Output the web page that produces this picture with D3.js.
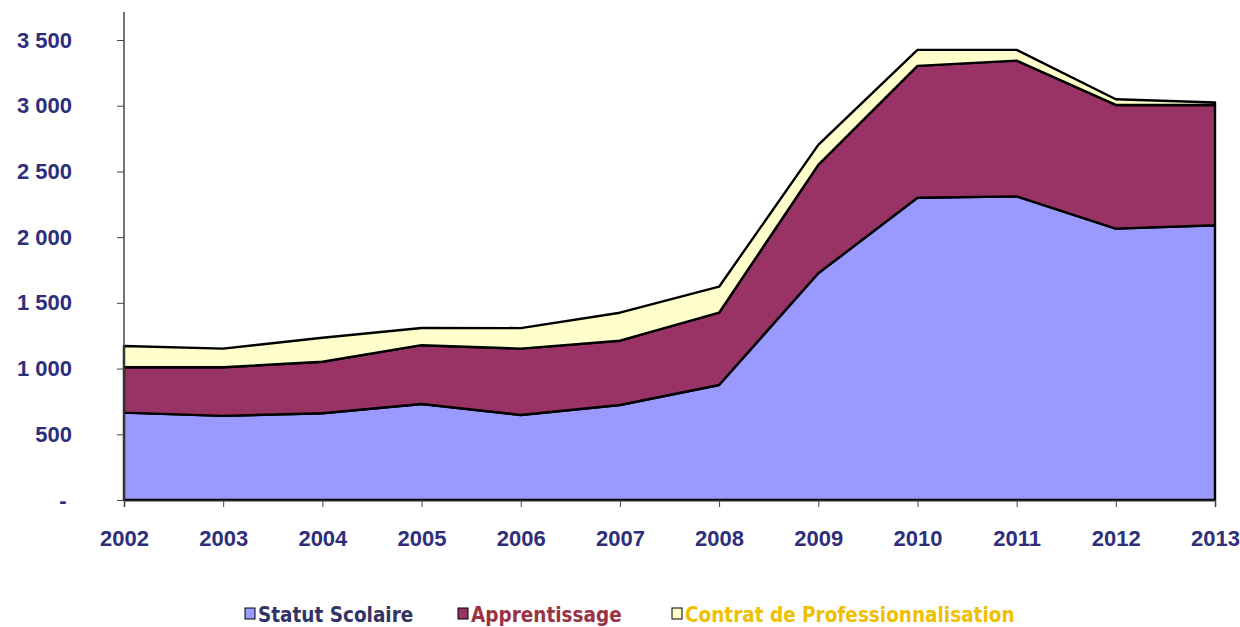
<!DOCTYPE html>
<html>
<head>
<meta charset="utf-8">
<script src="https://cdn.jsdelivr.net/npm/d3@7"></script>
<style>
  body { margin: 0; background: #fff; }
  svg { display: block; }
</style>
</head>
<body>
<div id="chart"></div>
<script>
const years = [2002, 2003, 2004, 2005, 2006, 2007, 2008, 2009, 2010, 2011, 2012, 2013];
const statutScolaire = [665, 640, 660, 730, 647, 723, 875, 1725, 2300, 2310, 2065, 2090];
const apprentissage = [345, 370, 392, 448, 505, 489, 550, 825, 1003, 1033, 941, 916];
const contratPro = [162, 142, 183, 131, 156, 213, 198, 152, 122, 82, 43, 18];
const yTicks = [0, 500, 1000, 1500, 2000, 2500, 3000, 3500];

const seriesNames = ['Statut Scolaire', 'Apprentissage', 'Contrat de Professionnalisation'];
const fills = ['#9999ff', '#993366', '#ffffcc'];
const legendColors = ['#333366', '#993344', '#f0c000'];

const width = 1240, height = 627;
const svg = d3.select('#chart').append('svg')
  .attr('width', width)
  .attr('height', height);

const x = d3.scaleLinear().domain([2002, 2013]).range([124, 1215]);
const y = d3.scaleLinear().domain([0, 3500]).range([500, 40]);

const rows = years.map((yr, i) => ({
  year: yr,
  s: statutScolaire[i],
  a: apprentissage[i],
  c: contratPro[i]
}));
const stacked = d3.stack().keys(['s', 'a', 'c'])(rows);

const area = d3.area()
  .x((d) => x(d.data.year))
  .y0((d) => y(d[0]))
  .y1((d) => y(d[1]));

svg.append('g')
  .selectAll('path')
  .data(stacked)
  .enter().append('path')
  .attr('d', area)
  .attr('fill', (d, i) => fills[i])
  .attr('stroke', '#000')
  .attr('stroke-width', 2.4)
  .attr('stroke-linejoin', 'round');

const fmt = (v) => v === 0 ? '-\u2005' : d3.format(',')(v).replace(',', '\u00a0');

// y axis
const yAxis = svg.append('g')
  .attr('transform', 'translate(124,0)')
  .call(d3.axisLeft(y).tickValues(yTicks).tickSize(7).tickPadding(45).tickFormat(fmt));
yAxis.select('.domain').remove();
yAxis.selectAll('.tick line').attr('stroke', '#444');
yAxis.selectAll('text')
  .attr('fill', '#2e2e7a')
  .style('font', 'bold 22px "Liberation Sans", Arial, sans-serif');
svg.append('line')
  .attr('x1', 124).attr('x2', 124)
  .attr('y1', 12).attr('y2', 500)
  .attr('stroke', '#444').attr('stroke-width', 1.5);

// x axis
const xAxis = svg.append('g')
  .attr('transform', 'translate(0,500)')
  .call(d3.axisBottom(x).tickValues(years).tickSize(7).tickPadding(23).tickFormat(d3.format('d')));
xAxis.select('.domain').attr('stroke', '#222').attr('stroke-width', 1.5);
xAxis.selectAll('.tick line').attr('stroke', '#444');
xAxis.selectAll('text')
  .attr('fill', '#2e2e7a')
  .style('font', 'bold 22px "Liberation Sans", Arial, sans-serif');

// legend
const legendX = [245, 458, 672];
const legend = svg.append('g')
  .selectAll('g')
  .data(seriesNames)
  .enter().append('g')
  .attr('transform', (d, i) => `translate(${legendX[i]},608)`);
legend.append('rect')
  .attr('width', 10).attr('height', 11)
  .attr('fill', (d, i) => fills[i])
  .attr('stroke', '#000').attr('stroke-width', 1);
legend.append('text')
  .attr('x', 13).attr('y', 14)
  .attr('fill', (d, i) => legendColors[i])
  .style('font', 'bold 20.5px "DejaVu Sans Condensed", "DejaVu Sans", sans-serif')
  .text((d) => d);
</script>
</body>
</html>
